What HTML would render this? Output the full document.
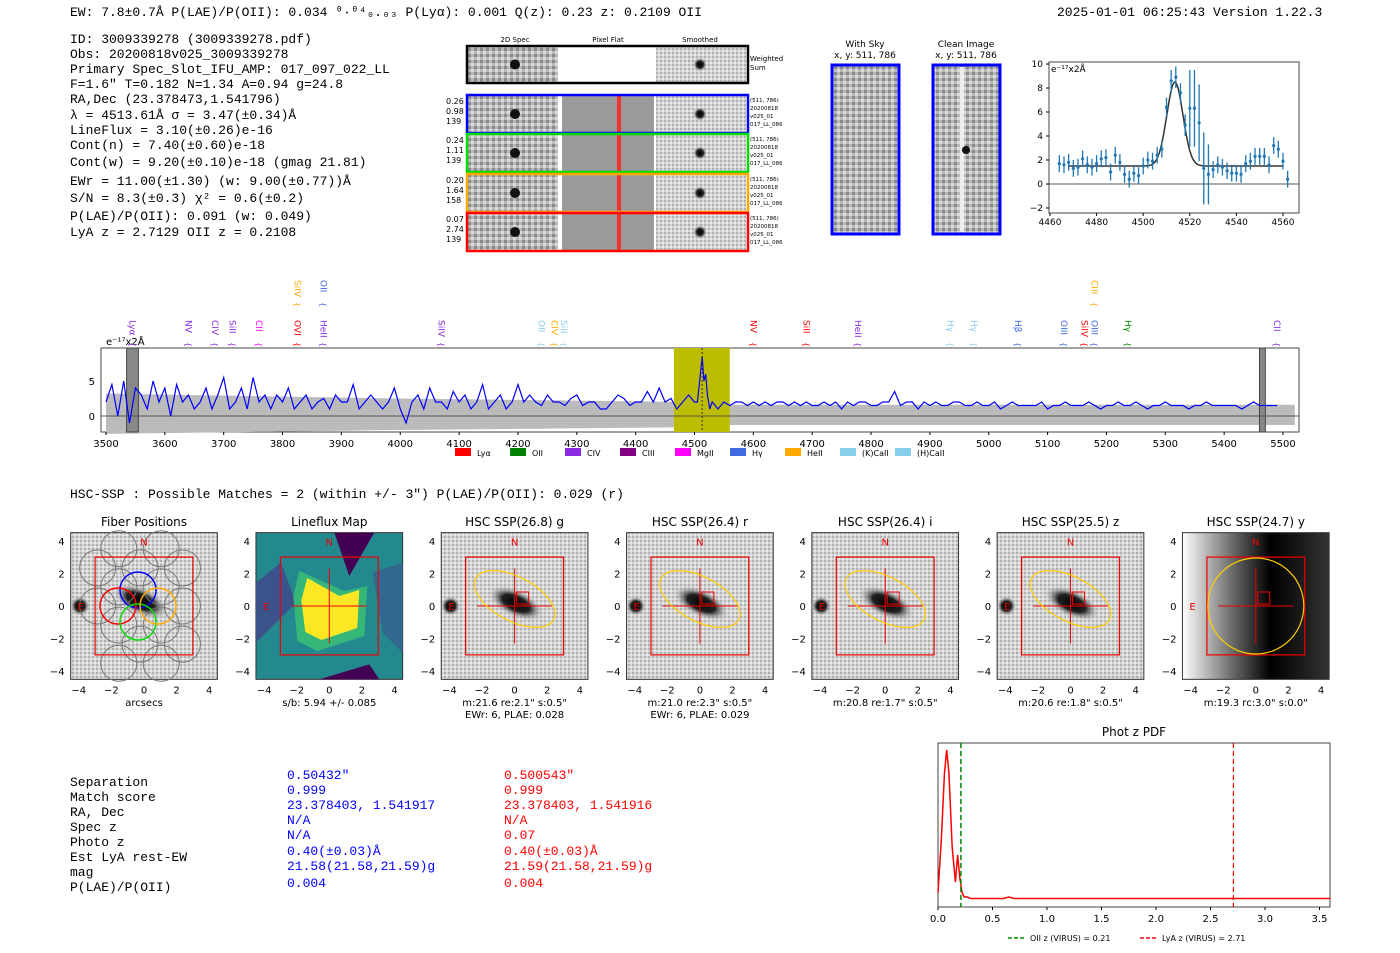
<!DOCTYPE html>
<html><head><meta charset="utf-8"><style>
body{margin:0;background:#fff;width:1400px;height:953px;overflow:hidden}
svg{display:block}
.m{font-family:"Liberation Mono",monospace;font-size:13px}
.s{font-family:"DejaVu Sans","Liberation Sans",sans-serif}
</style></head><body>
<svg id="root" width="1400" height="953" xmlns="http://www.w3.org/2000/svg">
<defs>
<radialGradient id="blob"><stop offset="0" stop-color="#000"/><stop offset="0.5" stop-color="#222"/><stop offset="1" stop-color="#ccc" stop-opacity="0"/></radialGradient>
<linearGradient id="ygrad" x1="0" x2="1"><stop offset="0" stop-color="#fff"/><stop offset="0.35" stop-color="#666"/><stop offset="0.6" stop-color="#000"/><stop offset="1" stop-color="#333"/></linearGradient>
<pattern id="noise" width="6" height="6" patternUnits="userSpaceOnUse"><rect width="6" height="6" fill="#b8b8b8"/><rect width="3" height="3" fill="#8a8a8a"/><rect x="3" y="3" width="3" height="3" fill="#dadada"/></pattern>
<pattern id="noise2" width="4" height="4" patternUnits="userSpaceOnUse"><rect width="4" height="4" fill="#d4d4d4"/><rect width="2" height="2" fill="#b0b0b0"/><rect x="2" y="2" width="2" height="2" fill="#e8e8e8"/></pattern>
</defs>
<g>
<text class="m" x="70" y="16">EW: 7.8±0.7Å  P(LAE)/P(OII): 0.034 ⁰·⁰⁴₀.₀₃  P(Lyα): 0.001  Q(z): 0.23  z: 0.2109  OII</text>
<text class="m" x="1057" y="16">2025-01-01 06:25:43  Version 1.22.3</text>
</g>
<g class="m">
<text x="70" y="43">ID: 3009339278 (3009339278.pdf)</text>
<text x="70" y="58">Obs: 20200818v025_3009339278</text>
<text x="70" y="73">Primary Spec_Slot_IFU_AMP: 017_097_022_LL</text>
<text x="70" y="88">F=1.6"  T=0.182  N=1.34  A=0.94  g=24.8</text>
<text x="70" y="103">RA,Dec (23.378473,1.541796)</text>
<text x="70" y="119">λ = 4513.61Å  σ = 3.47(±0.34)Å</text>
<text x="70" y="134">LineFlux = 3.10(±0.26)e-16</text>
<text x="70" y="149">Cont(n) = 7.40(±0.60)e-18</text>
<text x="70" y="166">Cont(w) = 9.20(±0.10)e-18 (gmag 21.81)</text>
<text x="70" y="185">EWr = 11.00(±1.30) (w: 9.00(±0.77))Å</text>
<text x="70" y="202">S/N = 8.3(±0.3)  χ² = 0.6(±0.2)</text>
<text x="70" y="220">P(LAE)/P(OII): 0.091 (w: 0.049)</text>
<text x="70" y="236">LyA z = 2.7129  OII z = 0.2108</text>
</g>
<g id="cut"></g>
<g>
<text class="s" x="865" y="47" font-size="9" text-anchor="middle">With Sky</text>
<text class="s" x="865" y="58" font-size="9" text-anchor="middle">x, y: 511, 786</text>
<rect x="832" y="65" width="67" height="169" fill="url(#noise)" stroke="#00f" stroke-width="3"/>
<text class="s" x="966" y="47" font-size="9" text-anchor="middle">Clean Image</text>
<text class="s" x="966" y="58" font-size="9" text-anchor="middle">x, y: 511, 786</text>
<rect x="933" y="65" width="67" height="169" fill="url(#noise)" stroke="#00f" stroke-width="3"/>
<rect x="960" y="67" width="4" height="165" fill="#eee"/>
<circle cx="966" cy="150" r="4" fill="#111"/>
</g>
<g id="zoomfit"></g>
<g id="spec"></g>
<text class="m" x="70" y="498">HSC-SSP : Possible Matches = 2 (within +/- 3")  P(LAE)/P(OII): 0.029 (r)</text>
<g id="panels"></g>
<g class="m">
<text x="70" y="786">Separation</text><text x="70" y="801">Match score</text><text x="70" y="816">RA, Dec</text><text x="70" y="831">Spec z</text><text x="70" y="846">Photo z</text><text x="70" y="861">Est LyA rest-EW</text><text x="70" y="876">mag</text><text x="70" y="891">P(LAE)/P(OII)</text>
<g><text x="287" y="779" fill="#00f">0.50432"</text><text x="287" y="794" fill="#00f">0.999</text><text x="287" y="809" fill="#00f">23.378403, 1.541917</text><text x="287" y="824" fill="#00f">N/A</text><text x="287" y="839" fill="#00f">N/A</text><text x="287" y="855" fill="#00f">0.40(±0.03)Å</text><text x="287" y="870" fill="#00f">21.58(21.58,21.59)g</text><text x="287" y="887" fill="#00f">0.004</text></g>
<g><text x="504" y="779" fill="#f00">0.500543"</text><text x="504" y="794" fill="#f00">0.999</text><text x="504" y="809" fill="#f00">23.378403, 1.541916</text><text x="504" y="824" fill="#f00">N/A</text><text x="504" y="839" fill="#f00">0.07</text><text x="504" y="855" fill="#f00">0.40(±0.03)Å</text><text x="504" y="870" fill="#f00">21.59(21.58,21.59)g</text><text x="504" y="887" fill="#f00">0.004</text></g>
</g>
<g id="pdf"></g>
</svg>
<script>
const NS="http://www.w3.org/2000/svg";
function el(p,t,a,txt){const e=document.createElementNS(NS,t);for(const k in a)e.setAttribute(k,a[k]);if(txt!==undefined)e.textContent=txt;p.appendChild(e);return e;}

// ---- line fit data ----
const fitWave=[4464,4466,4468,4470,4472,4474,4476,4478,4480,4482,4484,4486,4488,4490,4492,4494,4496,4498,4500,4502,4504,4506,4508,4510,4512,4514,4516,4518,4520,4522,4524,4526,4528,4530,4532,4534,4536,4538,4540,4542,4544,4546,4548,4550,4552,4554,4556,4558,4560,4562];
const fitFlux=[1.7,1.6,1.8,1.3,1.4,2.1,1.6,1.4,1.7,2.1,2.2,1.0,2.4,1.8,0.8,0.4,0.9,0.7,1.5,2.0,1.9,2.4,2.9,6.4,8.6,8.9,7.6,4.9,6.3,6.3,5.1,1.3,0.8,1.2,1.6,1.4,1.1,0.9,0.9,0.8,1.7,1.9,2.3,2.3,2.3,1.6,3.2,2.9,1.9,0.4];
const fitErr=[0.7,0.7,0.7,0.7,0.7,0.7,0.7,0.7,0.7,0.7,0.7,0.7,0.7,0.7,0.7,0.7,0.7,0.7,0.7,0.7,0.7,0.7,0.7,0.8,0.9,0.9,0.8,0.9,3.2,3.2,3.2,3.0,2.5,0.7,0.7,0.7,0.7,0.7,0.7,0.7,0.7,0.7,0.7,0.7,0.7,0.7,0.7,0.7,0.7,0.7];
const fitXTicks=[4460,4480,4500,4520,4540,4560];
const fitYTicks=[-2,0,2,4,6,8,10];
const fitModel={center:4513.6,sigma:3.47,amp:7.0,cont:1.5};

(function(){
 const g=document.getElementById('zoomfit');
 const L=1049,R=1299,T=62,B=213;
 const X=v=>1050+(v-4460)*(233/100), Y=v=>208-(v+2)*(144/12);
 el(g,'rect',{x:L,y:T,width:R-L,height:B-T,fill:'#fff',stroke:'#444'});
 el(g,'line',{x1:L,x2:R,y1:Y(0),y2:Y(0),stroke:'#555','stroke-width':1});
 fitXTicks.forEach(t=>{el(g,'line',{x1:X(t),x2:X(t),y1:B,y2:B+3,stroke:'#000'});const e=el(g,'text',{x:X(t),y:B+12,'font-size':9,'text-anchor':'middle',class:'s'},t);});
 fitYTicks.forEach(t=>{el(g,'line',{x1:L-3,x2:L,y1:Y(t),y2:Y(t),stroke:'#000'});el(g,'text',{x:L-6,y:Y(t)+3,'font-size':9,'text-anchor':'end',class:'s'},t<0?'−'+(-t):t);});
 el(g,'text',{x:L+2,y:T+10,'font-size':9,class:'s'},'e⁻¹⁷x2Å');
 let d='';for(let w=4468;w<=4560;w+=0.5){const v=fitModel.cont+fitModel.amp*Math.exp(-0.5*Math.pow((w-fitModel.center)/fitModel.sigma,2));d+=(d?'L':'M')+X(w).toFixed(1)+','+Y(v).toFixed(1);}
 el(g,'path',{d:d,fill:'none',stroke:'#333','stroke-width':1.5});
 fitWave.forEach((w,i)=>{const p=el(g,'g',{});
  el(p,'line',{x1:X(w),x2:X(w),y1:Y(fitFlux[i]-fitErr[i]),y2:Y(fitFlux[i]+fitErr[i]),stroke:'#1f77b4','stroke-width':1.3});
  el(p,'circle',{cx:X(w),cy:Y(fitFlux[i]),r:1.6,fill:'#1f77b4'});});
})();

// ---- full spectrum ----
const specStart=3500, specStep=10;
const specFlux=[2,4.5,0,5,-1,4,3,1,5,2,4,0,4.5,2,3,1,2,4,1,3,5.5,1,2,4,1,5.5,2,3,1,3,2,4,1,2,3,1,2,2.5,1,3,2,2,4.5,1,2,3,2,1,2,4,1,-1,2,3,1,4,2,2,1,3.5,2,3,1,2,4.5,1,2,3,1,2,4.5,2,3,2,1.5,3,2,2,1.5,2.5,3,1.5,2,2,1,1,2,3,2.5,1.5,2,2,3.5,2,4,2,2.5,1,2,3,2,1.5,2.5,2,1,2,1.5,2,2,1.5,2,1.5,2,1.5,2,2,1.5,2,1.5,2,1.5,1.5,2,1.5,2,1,2,1.5,2,2,1.5,1.5,2,2,3.5,1.5,2,2,1,2,1.5,2,1.5,1.5,2,2,1.5,1.5,2,1.5,1.5,2,1,1.5,2,1.5,1.5,1.5,1.5,2,1,1.5,1.5,2,1.5,1.5,1.5,2,1.5,1,1.5,1.5,2,1.5,1.5,2,1.5,1,1.5,1.5,2,1.5,1.5,1.5,1,1.5,1.5,2,1.5,1.5,1.5,1.5,1.5,1,1.5,2,1.5,1.5,1.5,1.5];
const specPeak=[[4505,2],[4510,6],[4513,8.5],[4516,5],[4519,6],[4522,3],[4526,1]];
const specXTicks=[3500,3600,3700,3800,3900,4000,4100,4200,4300,4400,4500,4600,4700,4800,4900,5000,5100,5200,5300,5400,5500];
const specYTicks=[0,5];
const lineLabels=[["Lyα",3545,"#8a2be2",0],["NV",3640,"#8a2be2",0],["CIV",3685,"#8a2be2",0],["SiII",3715,"#8a2be2",0],["CII",3760,"#f0f",0],["OVI",3825,"#f00",0],["SiIV",3825,"#fa0",1],["HeII",3870,"#8a2be2",0],["OII",3870,"#4169e1",1],["SiIV",4070,"#8a2be2",0],["OII",4240,"#87ceeb",0],["CIV",4262,"#fa0",0],["SiII",4278,"#87ceeb",0],["NV",4600,"#f00",0],["SiII",4690,"#f00",0],["HeII",4778,"#8a2be2",0],["Hγ",4935,"#87ceeb",0],["Hγ",4975,"#87ceeb",0],["Hβ",5050,"#4169e1",0],["OIII",5128,"#4169e1",0],["SiIV",5163,"#f00",0],["OIII",5180,"#4169e1",0],["CIII",5180,"#fa0",1],["Hγ",5237,"#080",0],["CII",5490,"#8a2be2",0]];
const specLegend=[["Lyα","#f00"],["OII","#008000"],["CIV","#8a2be2"],["CIII","#800080"],["MgII","#f0f"],["Hγ","#4169e1"],["HeII","#fa0"],["(K)CaII","#87ceeb"],["(H)CaII","#87ceeb"]];
(function(){
 const g=document.getElementById('spec');
 const L=101,R=1299,T=348,B=432;
 const X=v=>106+(v-3500)*(1177/2000), Y=v=>416-v*7;
 el(g,'rect',{x:L,y:T,width:R-L,height:B-T,fill:'#fff',stroke:'#444'});
 let up='',lo='';for(let w=3500;w<=5520;w+=20){const e=w<4000?3.2-(w-3500)/700:w<4500?2.5-(w-4000)/1000:1.6;up+=(up?'L':'M')+X(w).toFixed(1)+','+Y(e).toFixed(1);lo='L'+X(w).toFixed(1)+','+Y(-e*0.8).toFixed(1)+lo;}
 el(g,'path',{d:up+lo+'Z',fill:'#bbb'});
 el(g,'rect',{x:X(4465),y:T,width:X(4560)-X(4465),height:B-T,fill:'#bdbd00'});
 el(g,'rect',{x:X(3535),y:T,width:X(3555)-X(3535),height:B-T,fill:'#888',stroke:'#444'});
 el(g,'rect',{x:X(5460),y:T,width:X(5470)-X(5460),height:B-T,fill:'#888',stroke:'#444'});
 el(g,'line',{x1:L,x2:R,y1:Y(0),y2:Y(0),stroke:'#555'});
 let pts=[];specFlux.forEach((v,i)=>{const w=specStart+i*specStep;if(w<4503||w>4528)pts.push([w,v]);});
 specPeak.forEach(p=>pts.push(p));pts.sort((a,b)=>a[0]-b[0]);
 const d=pts.map((p,i)=>(i?'L':'M')+X(p[0]).toFixed(1)+','+Y(p[1]).toFixed(1)).join('');
 const path=el(g,'path',{d:d,fill:'none',stroke:'#00f','stroke-width':1.2});
 el(g,'line',{x1:X(4513),x2:X(4513),y1:T,y2:B,stroke:'#333','stroke-dasharray':'2,2'});
 specXTicks.forEach(t=>{el(g,'line',{x1:X(t),x2:X(t),y1:B,y2:B+3,stroke:'#000'});el(g,'text',{x:X(t),y:B+15,'font-size':10,'text-anchor':'middle',class:'s'},t);});
 specYTicks.forEach(t=>{el(g,'text',{x:L-6,y:Y(t)+4,'font-size':10,'text-anchor':'end',class:'s'},t);});
 el(g,'text',{x:L+5,y:T-3,'font-size':10,class:'s'},'e⁻¹⁷x2Å');
 lineLabels.forEach(l=>{const y0=l[3]?280:320;const t=el(g,'text',{transform:`translate(${X(l[1])-3},${y0}) rotate(90)`,'font-size':9,fill:l[2],class:'s'},l[0]);
  el(g,'text',{transform:`translate(${X(l[1])-3},${y0+22}) rotate(90)`,'font-size':8,fill:l[2],class:'s'},'{');});
 specLegend.forEach((l,i)=>{const x=455+i*55;const it=el(g,'g',{});
  el(it,'rect',{x:x,y:448,width:16,height:8,fill:l[1]});el(it,'text',{x:x+22,y:456,'font-size':8,class:'s'},l[0]);});
})();

// ---- cutouts ----
(function(){
 const g=document.getElementById('cut');
 el(g,'text',{x:515,y:42,'font-size':7,'text-anchor':'middle',class:'s'},'2D Spec');
 el(g,'text',{x:608,y:42,'font-size':7,'text-anchor':'middle',class:'s'},'Pixel Flat');
 el(g,'text',{x:700,y:42,'font-size':7,'text-anchor':'middle',class:'s'},'Smoothed');
 const rows=[[46,'#000',''],[95,'#00f','0.26\n0.98\n139'],[134,'#0d0','0.24\n1.11\n139'],[174,'#fa0','0.20\n1.64\n158'],[213,'#f00','0.07\n2.74\n139']];
 rows.forEach((r,i)=>{const y=r[0],h=i?38:37;
  el(g,'rect',{x:468,y:y,width:90,height:h,fill:'url(#noise)'});
  el(g,'circle',{cx:515,cy:y+h/2,r:5,fill:'#111'});
  if(i){el(g,'rect',{x:562,y:y,width:92,height:h,fill:'#9a9a9a'});el(g,'rect',{x:617,y:y,width:4,height:h,fill:'#e33'});}
  else el(g,'rect',{x:562,y:y,width:92,height:h,fill:'#fff'});
  el(g,'rect',{x:656,y:y,width:90,height:h,fill:'url(#noise2)'});
  el(g,'circle',{cx:700,cy:y+h/2,r:7,fill:'url(#blob)'});
  el(g,'rect',{x:467,y:y,width:281,height:h,fill:'none',stroke:r[1],'stroke-width':2.5});
  r[2].split('\n').forEach((s,k)=>{if(s)el(g,'text',{x:446,y:y+9+k*10,'font-size':8,class:'s'},s);});
  if(i){['(511, 786)','20200818','v025_01','017_LL_086'].forEach((s,k)=>el(g,'text',{x:750,y:y+7+k*8,'font-size':5.5,class:'s'},s));}
 });
 el(g,'text',{x:750,y:61,'font-size':7,class:'s'},'Weighted');el(g,'text',{x:750,y:70,'font-size':7,class:'s'},'Sum');
})();

// ---- image panels ----
const panelTitles=["Fiber Positions","Lineflux Map","HSC SSP(26.8) g","HSC SSP(26.4) r","HSC SSP(26.4) i","HSC SSP(25.5) z","HSC SSP(24.7) y"];
const panelCaps=[["arcsecs"],["s/b: 5.94 +/- 0.085"],["m:21.6  re:2.1\"  s:0.5\"","EWr: 6, PLAE: 0.028"],["m:21.0  re:2.3\"  s:0.5\"","EWr: 6, PLAE: 0.029"],["m:20.8  re:1.7\"  s:0.5\""],["m:20.6  re:1.8\"  s:0.5\""],["m:19.3  rc:3.0\"  s:0.0\""]];
const panelTicks=[-4,-2,0,2,4];
(function(){
 const g=document.getElementById('panels');
 panelTitles.forEach((t,i)=>{
  const cx=144+i*185.3, cy=606, s=16.3;
  const p=el(g,'g',{});
  el(p,'text',{x:cx,y:526,'font-size':12,'text-anchor':'middle',class:'s'},t);
  const x0=cx-4.5*s,y0=cy-4.5*s,w=9*s;
  let fill=i==1?'#23898e':i==6?'url(#ygrad)':'url(#noise2)';
  el(p,'rect',{x:x0,y:y0,width:w,height:w,fill:fill,stroke:'#333'});
  if(i==1){
   el(p,'polygon',{points:`${x0},${y0+50} ${x0+25},${y0+30} ${x0+40},${y0+70} ${x0},${y0+110}`,fill:'#3b528b'});
   el(p,'polygon',{points:`${cx+5},${y0} ${cx+45},${y0} ${cx+20},${cy-30}`,fill:'#440154'});
   el(p,'polygon',{points:`${x0+w-30},${y0+40} ${x0+w},${y0+30} ${x0+w},${y0+120} ${x0+w-20},${y0+100}`,fill:'#31688e'});
   el(p,'polygon',{points:`${cx-10},${y0+w} ${cx+40},${y0+w-15} ${cx+50},${y0+w}`,fill:'#440154'});
   el(p,'polygon',{points:`${cx-30},${cy-35} ${cx+15},${cy-15} ${cx+38},${cy-20} ${cx+35},${cy+30} ${cx-12},${cy+45} ${cx-32},${cy+35} ${cx-36},${cy-10}`,fill:'#35b779'});
   el(p,'polygon',{points:`${cx-22},${cy-28} ${cx+10},${cy-10} ${cx+30},${cy-16} ${cx+28},${cy+22} ${cx-8},${cy+34} ${cx-24},${cy+26} ${cx-28},${cy-6}`,fill:'#fde725'});}
  else if(i<6){el(p,'ellipse',{cx:cx+(i==0?-5:0),cy:cy-3,rx:30,ry:14,transform:`rotate(25 ${cx} ${cy})`,fill:'url(#blob)'});el(p,'circle',{cx:cx-64,cy:cy,r:10,fill:'url(#blob)'});}
  if(i==0){[[0,-2.6],[-1.3,-1.3],[1.3,-1.3],[-2.6,0],[2.6,0],[-1.3,1.3],[1.3,1.3],[0,2.6],[-1.3,-3.9],[1.3,-3.9],[2.6,-2.6],[-2.6,2.6],[2.6,2.6],[-1.3,3.9],[1.3,3.9]].forEach(c=>el(p,'circle',{cx:cx+c[0]*s-4,cy:cy-c[1]*s*0.9,r:18,fill:'none',stroke:'#777'}));
   el(p,'circle',{cx:cx-6,cy:cy-16,r:18,fill:'none',stroke:'#00f','stroke-width':1.5});el(p,'circle',{cx:cx-26,cy:cy,r:18,fill:'none',stroke:'#f00','stroke-width':1.5});el(p,'circle',{cx:cx-6,cy:cy+16,r:18,fill:'none',stroke:'#0d0','stroke-width':1.5});el(p,'circle',{cx:cx+14,cy:cy,r:18,fill:'none',stroke:'#fa0','stroke-width':1.5});}
  el(p,'rect',{x:cx-3*s,y:cy-3*s,width:6*s,height:6*s,fill:'none',stroke:'#e00','stroke-width':1.2});
  if(i>0){el(p,'line',{x1:cx-2.3*s,x2:cx+2.3*s,y1:cy,y2:cy,stroke:'#e00'});el(p,'line',{x1:cx,x2:cx,y1:cy-2.3*s,y2:cy+2.3*s,stroke:'#e00'});}
  if(i>1){el(p,'rect',{x:cx+2,y:cy-14,width:12,height:12,fill:'none',stroke:'#e00'});
   if(i<6)el(p,'ellipse',{cx:cx,cy:cy-7,rx:44,ry:22,transform:`rotate(28 ${cx} ${cy-7})`,fill:'none',stroke:'#fc0','stroke-width':1.2});else el(p,'circle',{cx:cx,cy:cy,r:48,fill:'none',stroke:'#fc0','stroke-width':1.2});}
  el(p,'text',{x:cx,y:y0+13,'font-size':10,fill:'#e00','text-anchor':'middle',class:'s'},'N');
  el(p,'text',{x:cx-4*s+2,y:cy+4,'font-size':10,fill:'#e00','text-anchor':'middle',class:'s'},'E');
  panelTicks.forEach(v=>{el(p,'text',{x:cx+v*s,y:y0+w+14,'font-size':10,'text-anchor':'middle',class:'s'},v<0?'−'+(-v):v);
   el(p,'text',{x:x0-6,y:cy-v*s+4,'font-size':10,'text-anchor':'end',class:'s'},v<0?'−'+(-v):v);});
  panelCaps[i].forEach((c,k)=>el(p,'text',{x:cx,y:706+k*12,'font-size':10,'text-anchor':'middle',class:'s'},c));
 });
})();

// ---- phot z pdf ----
const pdfZ=[0,0.03,0.06,0.08,0.1,0.13,0.16,0.18,0.2,0.22,0.24,0.27,0.3,0.4,0.5,0.6,0.65,0.7,1.0,1.5,2.0,2.5,3.0,3.6];
const pdfP=[0.05,0.4,0.85,1.0,0.85,0.35,0.12,0.3,0.15,0.05,0.02,0.02,0.01,0.01,0.01,0.01,0.02,0.01,0.01,0.01,0.01,0.01,0.01,0.01];
const pdfTicks=[0,0.5,1.0,1.5,2.0,2.5,3.0,3.5];
const pdfOII=0.21, pdfLyA=2.71;
(function(){
 const g=document.getElementById('pdf');
 const L=938,R=1330,T=743,B=907;
 const X=v=>938+v*109, Y=v=>900-v*150;
 el(g,'text',{x:1134,y:736,'font-size':12,'text-anchor':'middle',class:'s'},'Phot z PDF');
 el(g,'rect',{x:L,y:T,width:R-L,height:B-T,fill:'#fff',stroke:'#444'});
 el(g,'path',{d:pdfZ.map((z,i)=>(i?'L':'M')+X(z).toFixed(1)+','+Y(pdfP[i]).toFixed(1)).join(''),fill:'none',stroke:'#f00','stroke-width':1.5});
 el(g,'line',{x1:X(pdfOII),x2:X(pdfOII),y1:T,y2:B,stroke:'#080','stroke-width':1.5,'stroke-dasharray':'5,3'});
 el(g,'line',{x1:X(pdfLyA),x2:X(pdfLyA),y1:T,y2:B,stroke:'#e00','stroke-width':1.2,'stroke-dasharray':'5,3'});
 pdfTicks.forEach(t=>{el(g,'line',{x1:X(t),x2:X(t),y1:B,y2:B+3,stroke:'#000'});el(g,'text',{x:X(t),y:B+15,'font-size':10,'text-anchor':'middle',class:'s'},t.toFixed(1));});
 el(g,'line',{x1:1008,x2:1024,y1:938,y2:938,stroke:'#080','stroke-dasharray':'4,2','stroke-width':1.5});
 el(g,'text',{x:1030,y:941,'font-size':8,class:'s'},'OII z (VIRUS) = 0.21');
 el(g,'line',{x1:1140,x2:1156,y1:938,y2:938,stroke:'#e00','stroke-dasharray':'4,2','stroke-width':1.5});
 el(g,'text',{x:1162,y:941,'font-size':8,class:'s'},'LyA z (VIRUS) = 2.71');
})();
</script>
</body></html>
